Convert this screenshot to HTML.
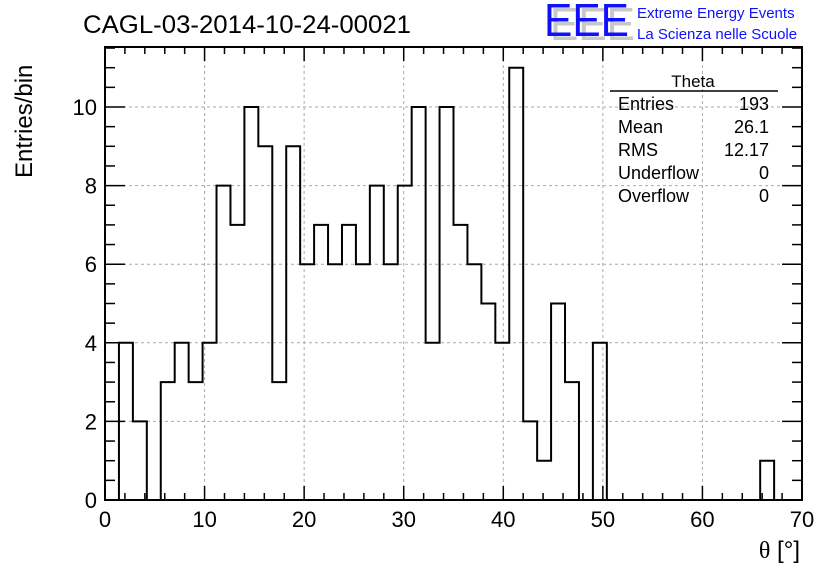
<!DOCTYPE html>
<html><head><meta charset="utf-8"><style>
body{margin:0;background:#fff;}
svg{display:block;font-family:"Liberation Sans",sans-serif;}
</style></head><body>
<svg id="c" width="836" height="572" viewBox="0 0 836 572">
<rect width="836" height="572" fill="#fff"/>
<text x="83" y="33" font-size="25" textLength="328" lengthAdjust="spacingAndGlyphs">CAGL-03-2014-10-24-00021</text>
<g>
<text x="550" y="40" font-size="46" fill="#c8c8c8" textLength="85" lengthAdjust="spacingAndGlyphs">EEE</text>
<text x="544" y="36" font-size="46" fill="#1010ff" textLength="85" lengthAdjust="spacingAndGlyphs">EEE</text>
</g>
<text x="637" y="18" font-size="15" fill="#1010ff">Extreme Energy Events</text>
<text x="637" y="39" font-size="15" fill="#1010ff">La Scienza nelle Scuole</text>
<g id="grid"></g>
<g id="axes"></g>
<path id="hist" fill="none" stroke="#000" stroke-width="2"/>
<rect x="105" y="47" width="697" height="453" fill="none" stroke="#000" stroke-width="2"/>
<g font-size="18">
<text x="693" y="87" text-anchor="middle" font-size="17">Theta</text>
<line x1="610" y1="91" x2="778" y2="91" stroke="#000" stroke-width="1.5"/>
<text x="618" y="110">Entries</text><text x="769" y="110" text-anchor="end">193</text>
<text x="618" y="133">Mean</text><text x="769" y="133" text-anchor="end">26.1</text>
<text x="618" y="156">RMS</text><text x="769" y="156" text-anchor="end">12.17</text>
<text x="618" y="179">Underflow</text><text x="769" y="179" text-anchor="end">0</text>
<text x="618" y="202">Overflow</text><text x="769" y="202" text-anchor="end">0</text>
</g>
<text x="800" y="558" font-size="24" text-anchor="end"><tspan font-family="Liberation Serif, serif">θ</tspan> [°]</text>
<text transform="translate(32,178) rotate(-90)" font-size="24">Entries/bin</text>
</svg>
<script>
const counts=[0,4,2,0,3,4,3,4,8,7,10,9,3,9,6,7,6,7,6,8,6,8,10,4,10,7,6,5,4,11,2,1,5,3,0,4,0,0,0,0,0,0,0,0,0,0,0,1,0,0];
const xTicks=[0,10,20,30,40,50,60,70];
const yTicks=[0,2,4,6,8,10];
const binWidth=1.4;
const X0=105,X1=802,Y0=500,XMAX=70,PXPERY=39.3,YTOP=47;
const sx=v=>X0+(X1-X0)*v/XMAX, sy=v=>Y0-PXPERY*v;
const NS="http://www.w3.org/2000/svg";
const grid=document.getElementById('grid'),axes=document.getElementById('axes');
function mk(p,tag,a){const e=document.createElementNS(NS,tag);for(const k in a)e.setAttribute(k,a[k]);p.appendChild(e);return e;}
xTicks.forEach(t=>{
 if(t>0&&t<XMAX){const g=mk(grid,'line',{x1:sx(t),x2:sx(t),y1:Y0,y2:YTOP,stroke:'#aaa','stroke-dasharray':'3,3'});
 
 }
 const l=mk(axes,'text',{x:sx(t),y:527,'font-size':22,'text-anchor':'middle'});l.textContent=t;
 
 
 mk(axes,'line',{x1:sx(t),x2:sx(t),y1:Y0,y2:Y0-14,stroke:'#000','stroke-width':1.5});
 mk(axes,'line',{x1:sx(t),x2:sx(t),y1:YTOP,y2:YTOP+14,stroke:'#000','stroke-width':1.5});
});
for(let t=0;t<=XMAX;t+=2){if(t%10){mk(axes,'line',{x1:sx(t),x2:sx(t),y1:Y0,y2:Y0-7,stroke:'#000','stroke-width':1.5});mk(axes,'line',{x1:sx(t),x2:sx(t),y1:YTOP,y2:YTOP+7,stroke:'#000','stroke-width':1.5});}}
yTicks.forEach(t=>{
 if(t>0){const g=mk(grid,'line',{x1:X0,x2:X1,y1:sy(t),y2:sy(t),stroke:'#aaa','stroke-dasharray':'3,3'});
 
 }
 const l=mk(axes,'text',{x:97,y:sy(t)+8,'font-size':22,'text-anchor':'end'});l.textContent=t;
 
 
 mk(axes,'line',{x1:X0,x2:X0+20,y1:sy(t),y2:sy(t),stroke:'#000','stroke-width':1.5});
 mk(axes,'line',{x1:X1,x2:X1-20,y1:sy(t),y2:sy(t),stroke:'#000','stroke-width':1.5});
});
for(let t=0.5;sy(t)>YTOP;t+=0.5){if(t%2){mk(axes,'line',{x1:X0,x2:X0+10,y1:sy(t),y2:sy(t),stroke:'#000','stroke-width':1.5});mk(axes,'line',{x1:X1,x2:X1-10,y1:sy(t),y2:sy(t),stroke:'#000','stroke-width':1.5});}}
let d='M'+sx(0)+','+sy(0);
counts.forEach((c,i)=>{d+=' L'+sx(i*binWidth)+','+sy(c)+' L'+sx((i+1)*binWidth)+','+sy(c);});
d+=' L'+sx(counts.length*binWidth)+','+sy(0);
document.getElementById('hist').setAttribute('d',d);
</script>
</body></html>
